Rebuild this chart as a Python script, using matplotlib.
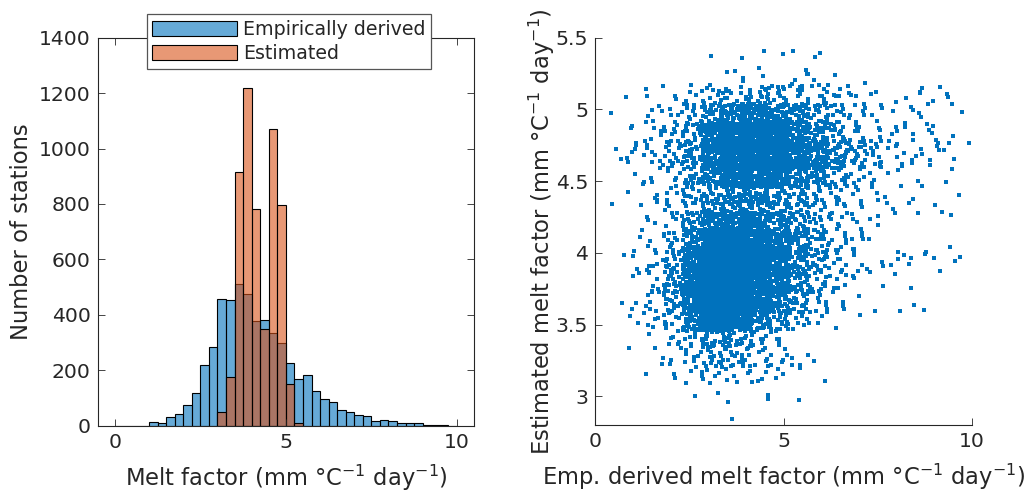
import numpy as np
import matplotlib
matplotlib.use("Agg")
import matplotlib.pyplot as plt

# ---------------- data ----------------
# Histogram (bin width 0.25)
emp_edges_start = 0.0
emp_counts = [0, 0, 0, 0, 12, 10, 30, 43, 75, 117, 220, 285, 457, 453, 513, 477,
              378, 383, 333, 299, 225, 168, 182, 127, 98, 87, 57, 48, 37, 34,
              16, 22, 16, 10, 10, 10, 4, 4, 1, 0]
est_edges_start = 3.0
est_counts = [50, 177, 917, 1219, 782, 350, 1071, 798, 150, 10]
bin_width = 0.25

# Scatter: number of stations per cell (x cells 0.5 wide from 0 to 10,
# y cells 0.125 high), rows listed from top (5.375-5.5) to bottom (2.875-3.0)
scatter_x_edges = np.arange(0, 10.001, 0.5)
scatter_y_top = 5.5
scatter_dy = 0.125
scatter_counts = [
    [0,0,0,0,0,0,0,0,0,1,0,0,0,0,0,0,0,0,0,0],
    [0,0,0,0,0,0,2,0,1,1,1,2,1,0,0,0,0,0,0,0],
    [0,0,0,2,1,0,2,3,4,4,5,5,4,2,0,0,1,0,2,1],
    [0,1,0,2,4,7,11,15,16,14,12,10,8,5,3,2,2,2,1,0],
    [0,1,3,5,8,14,36,52,58,52,36,22,14,8,5,4,3,3,2,1],
    [0,1,4,7,12,24,58,85,90,80,52,30,18,10,6,5,4,3,4,1],
    [1,1,4,7,13,26,66,96,98,95,68,45,30,18,10,5,4,3,3,1],
    [0,1,3,5,10,20,50,74,80,78,56,40,25,14,7,4,3,2,2,1],
    [0,1,3,4,7,13,22,28,28,25,18,12,8,5,3,2,1,1,1,0],
    [0,0,2,3,6,13,22,28,28,22,16,10,7,4,3,2,1,1,1,0],
    [0,0,2,4,9,28,55,66,55,40,25,15,9,5,3,1,1,0,1,0],
    [0,1,3,5,14,50,88,102,80,55,30,18,10,5,3,1,1,1,2,1],
    [0,0,3,7,20,72,124,132,95,58,33,17,8,4,3,2,1,2,1,1],
    [1,1,4,9,26,86,144,142,98,58,33,17,8,3,3,1,1,2,0,0],
    [0,1,4,9,26,80,134,122,78,43,24,10,4,2,1,0,1,1,0,0],
    [0,0,3,7,18,60,102,86,54,27,12,5,2,0,1,1,0,0,0,0],
    [0,0,2,4,7,17,28,22,14,8,4,1,1,0,0,0,0,0,0,0],
    [0,0,0,3,4,11,17,14,9,5,3,1,0,0,0,0,0,0,0,0],
    [0,0,0,2,2,4,7,6,5,4,2,1,0,0,0,0,0,0,0,0],
    [0,0,0,1,1,2,3,2,2,2,2,1,0,0,0,0,0,0,0,0],
    [0,0,0,0,0,0,1,0,0,0,0,0,0,0,0,0,0,0,0,0],
]

legend_labels = ["Empirically derived", "Estimated"]
hist_xticks = [0, 5, 10]
hist_yticks = [0, 200, 400, 600, 800, 1000, 1200, 1400]
sc_xticks = [0, 5, 10]
sc_yticks = [3, 3.5, 4, 4.5, 5, 5.5]
sc_yticklabels = ["3", "3.5", "4", "4.5", "5", "5.5"]

# ---------------- style ----------------
TXT = "#262626"
BLUE = (0.0, 0.447, 0.741)
ORANGE = (0.85, 0.325, 0.098)
FS_TICK = 14.7
FS_LABEL = 16.3
FS_LEG = 13.7
plt.rcParams["font.family"] = ["DejaVu Sans"]
plt.rcParams["mathtext.fontset"] = "dejavusans"
plt.rcParams["text.color"] = TXT
plt.rcParams["axes.labelcolor"] = TXT
plt.rcParams["xtick.color"] = TXT
plt.rcParams["ytick.color"] = TXT
plt.rcParams["axes.edgecolor"] = TXT

W, H = 1036, 494
fig = plt.figure(figsize=(W / 100, H / 100), dpi=100)

# ---------------- left: histograms ----------------
ax1 = fig.add_axes([97.7 / W, (H - 425.7) / H, (474 - 97.7) / W, (425.7 - 37.7) / H])
emp_left = emp_edges_start + bin_width * np.arange(len(emp_counts))
est_left = est_edges_start + bin_width * np.arange(len(est_counts))
b1 = ax1.bar(emp_left, emp_counts, width=bin_width, align="edge",
             color=(*BLUE, 0.6), edgecolor="black", linewidth=0.8,
             label=legend_labels[0])
b2 = ax1.bar(est_left, est_counts, width=bin_width, align="edge",
             color=(*ORANGE, 0.6), edgecolor="black", linewidth=0.8,
             label=legend_labels[1])
ax1.set_xlim(-0.5, 10.5)
ax1.set_ylim(0, 1400)
ax1.set_xticks(hist_xticks)
ax1.set_yticks(hist_yticks)
ax1.tick_params(direction="in", length=5, width=0.6, top=True, right=True,
                labelsize=FS_TICK, pad=5)
for s in ax1.spines.values():
    s.set_linewidth(0.8)
ax1.set_xlabel("Melt factor (mm °C$^{-1}$ day$^{-1}$)", fontsize=FS_LABEL, labelpad=8)
ax1.set_ylabel("Number of stations", fontsize=FS_LABEL, labelpad=4)
leg = fig.legend(handles=[b1, b2], labels=legend_labels, loc="upper left",
                 bbox_to_anchor=(146.7 / W, 1 - 14.5 / H),
                 bbox_transform=fig.transFigure, fontsize=FS_LEG, frameon=True,
                 fancybox=False, framealpha=1, edgecolor="#555555",
                 handlelength=4.45, handleheight=0.8, handletextpad=0.3,
                 labelspacing=0.25, borderpad=0.3, borderaxespad=0)
leg.get_frame().set_linewidth(0.9)

# ---------------- right: scatter ----------------
ax2 = fig.add_axes([595 / W, (H - 425) / H, 377 / W, 387.3 / H])


def radical_inverse(n, base):
    v, denom = 0.0, 1.0
    while n:
        n, r = divmod(n, base)
        denom *= base
        v += r / denom
    return v


spread = 1.7   # points of a cell are spread over 1.7x the cell, centred on it
xs, ys = [], []
dx = scatter_x_edges[1] - scatter_x_edges[0]
for i, row in enumerate(scatter_counts):
    yc = scatter_y_top - (i + 0.5) * scatter_dy
    for c, n in enumerate(row):
        xc = scatter_x_edges[c] + dx / 2
        cell = c * 21 + i
        off_u = (cell * 7919) % 4096
        off_v = (cell * 6007) % 2187
        for k in range(n):
            u = radical_inverse(k + off_u + 1, 2) - 0.5
            v = radical_inverse(k + off_v + 1, 3) - 0.5
            x = xc + u * dx * spread
            y = yc + v * scatter_dy * spread
            if 0 <= x <= 10:
                xs.append(x)
                ys.append(y)
ax2.scatter(xs, ys, s=5, marker="s", color=BLUE, linewidths=0)
ax2.set_xlim(0, 10)
ax2.set_ylim(2.8, 5.5)
ax2.set_xticks(sc_xticks)
ax2.set_yticks(sc_yticks)
ax2.set_yticklabels(sc_yticklabels)
ax2.spines["top"].set_visible(False)
ax2.spines["right"].set_visible(False)
for s in ax2.spines.values():
    s.set_linewidth(0.8)
ax2.tick_params(direction="in", length=5, width=0.6, labelsize=FS_TICK, pad=5)
ax2.set_xlabel("Emp. derived melt factor (mm °C$^{-1}$ day$^{-1}$)", fontsize=FS_LABEL, labelpad=8)
ax2.set_ylabel("Estimated melt factor (mm °C$^{-1}$ day$^{-1}$)", fontsize=FS_LABEL, labelpad=-1)

fig.savefig("out.png", dpi=100)
